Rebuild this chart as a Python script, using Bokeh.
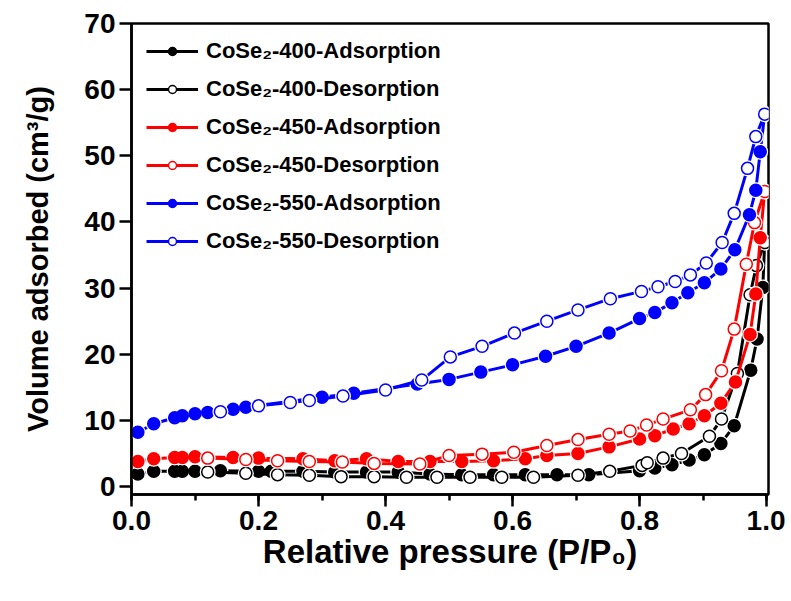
from bokeh.plotting import figure
from bokeh.models import Range1d, SingleIntervalTicker, PrintfTickFormatter, Legend, LegendItem
from bokeh.embed import file_html
from bokeh.resources import INLINE

# ---------------- data ----------------
p400a = [0.01, 0.035, 0.068, 0.08, 0.10, 0.14, 0.20, 0.22, 0.27, 0.32, 0.37, 0.42, 0.47, 0.52, 0.57, 0.62, 0.67, 0.72,
         0.80, 0.824, 0.851, 0.878, 0.902, 0.928, 0.949, 0.975, 0.985, 0.994, 0.997]
v400a = [1.9, 2.3, 2.3, 2.3, 2.3, 2.4, 2.3, 2.3, 2.3, 2.2, 2.2, 2.2, 1.9, 1.8, 1.8, 1.8, 1.8, 1.8,
         2.4, 2.8, 3.3, 4.0, 4.8, 6.5, 9.2, 17.6, 22.3, 30.1, 36.9]
p400d = [0.12, 0.18, 0.23, 0.28, 0.33, 0.382, 0.433, 0.481, 0.533, 0.583, 0.633, 0.703, 0.753, 0.804, 0.812,
         0.837, 0.866, 0.91, 0.929, 0.954, 0.974, 0.984, 0.997]
v400d = [2.2, 2.0, 1.8, 1.7, 1.5, 1.5, 1.4, 1.4, 1.4, 1.4, 1.4, 1.7, 2.3, 3.2, 3.6,
         4.3, 5.0, 7.6, 10.2, 17.1, 29.0, 33.4, 36.9]

p450a = [0.01, 0.035, 0.068, 0.08, 0.10, 0.16, 0.20, 0.27, 0.32, 0.37, 0.42, 0.47, 0.52, 0.57, 0.62, 0.654, 0.703,
         0.752, 0.80, 0.824, 0.853, 0.878, 0.902, 0.928, 0.951, 0.974, 0.983, 0.99, 0.997]
v450a = [3.8, 4.2, 4.4, 4.4, 4.5, 4.4, 4.3, 4.2, 3.9, 4.2, 3.8, 3.8, 3.8, 3.9, 4.2, 4.7, 5.0,
         6.0, 7.2, 7.7, 8.7, 9.5, 10.7, 12.6, 15.8, 23.0, 29.1, 37.6, 44.6]
p450d = [0.12, 0.18, 0.23, 0.28, 0.332, 0.382, 0.454, 0.50, 0.552, 0.602, 0.654, 0.703, 0.752, 0.785, 0.811,
         0.837, 0.88, 0.904, 0.929, 0.949, 0.968, 0.981, 0.997]
v450d = [4.3, 4.1, 3.9, 3.8, 3.7, 3.5, 3.4, 4.7, 4.9, 5.2, 6.2, 7.1, 7.9, 8.4, 9.3,
         10.2, 11.6, 13.9, 17.5, 23.8, 33.6, 39.9, 44.6]

p550a = [0.01, 0.035, 0.068, 0.08, 0.10, 0.12, 0.16, 0.18, 0.30, 0.35, 0.45, 0.50, 0.55, 0.60, 0.652, 0.70,
         0.752, 0.80, 0.824, 0.851, 0.876, 0.902, 0.928, 0.95, 0.973, 0.983, 0.99, 0.997]
v550a = [8.2, 9.5, 10.4, 10.7, 11.0, 11.2, 11.7, 12.0, 13.5, 14.1, 15.5, 16.2, 17.3, 18.4, 19.7, 21.2,
         23.2, 25.4, 26.3, 27.8, 29.3, 30.8, 32.9, 35.8, 41.1, 44.8, 50.6, 56.3]
p550d = [0.14, 0.20, 0.25, 0.28, 0.333, 0.40, 0.457, 0.502, 0.552, 0.603, 0.654, 0.703, 0.754, 0.803, 0.829,
         0.856, 0.88, 0.905, 0.93, 0.949, 0.97, 0.983, 0.997]
v550d = [11.3, 12.2, 12.7, 13.0, 13.7, 14.6, 16.1, 19.6, 21.2, 23.2, 25.0, 26.7, 28.4, 29.5, 30.2,
         31.0, 32.0, 33.8, 36.9, 41.3, 48.1, 52.9, 56.3]

labels = ["CoSe\u2082-400-Adsorption", "CoSe\u2082-400-Desorption",
          "CoSe\u2082-450-Adsorption", "CoSe\u2082-450-Desorption",
          "CoSe\u2082-550-Adsorption", "CoSe\u2082-550-Desorption"]
series = [(p400a, v400a, "#000000", True), (p400d, v400d, "#000000", False),
          (p450a, v450a, "#FF0000", True), (p450d, v450d, "#FF0000", False),
          (p550a, v550a, "#0000FF", True), (p550d, v550d, "#0000FF", False)]

FONT = "Liberation Sans"

p = figure(width=785, height=593, x_range=Range1d(0, 1.003), y_range=Range1d(-1.2, 70),
           output_backend="svg", toolbar_location=None,
           min_border_left=131, min_border_right=17, min_border_top=23, min_border_bottom=99)
p.xgrid.visible = False
p.ygrid.visible = False
p.outline_line_color = "black"
p.outline_line_width = 2.5

items = []
for (xs, ys, col, filled), lab in zip(series, labels):
    ln = p.line(xs, ys, line_color=col, line_width=3)
    halo = p.scatter(xs, ys, marker="circle", size=16, fill_color="white", line_color=None)
    mk = p.scatter(xs, ys, marker="circle", size=12,
                   fill_color=col if filled else "white", line_color=col, line_width=1.5)
    items.append(LegendItem(label=lab, renderers=[ln, halo, mk]))

legend = Legend(items=items, location="top_left", border_line_color=None,
                background_fill_alpha=0, label_text_font=FONT, label_text_font_style="bold",
                label_text_color="black",
                label_text_font_size="22px", glyph_width=52, glyph_height=20, label_height=20,
                spacing=12, padding=8, margin=15, label_standoff=8)
p.add_layout(legend)

for ax in (p.xaxis[0], p.yaxis[0]):
    ax.axis_line_width = 2.5
    ax.axis_line_color = "black"
    ax.major_tick_line_width = 2.5
    ax.major_tick_line_color = "black"
    ax.minor_tick_line_width = 2.5
    ax.major_tick_out = 12
    ax.major_tick_in = 0
    ax.minor_tick_out = 6
    ax.minor_tick_in = 0
    ax.major_label_text_font = FONT
    ax.major_label_text_font_style = "bold"
    ax.major_label_text_font_size = "28px"
    ax.major_label_text_color = "black"
    ax.axis_label_text_font = FONT
    ax.axis_label_text_font_style = "bold"
    ax.axis_label_text_color = "black"

p.xaxis.ticker = SingleIntervalTicker(interval=0.2, num_minor_ticks=2)
p.xaxis.minor_tick_line_color = "black"
p.xaxis.formatter = PrintfTickFormatter(format="%.1f")
p.yaxis.ticker = SingleIntervalTicker(interval=10, num_minor_ticks=2)
p.yaxis.minor_tick_line_color = None
p.xaxis.axis_label = "Relative pressure (P/P\u2080)"
p.yaxis.axis_label = "Volume adsorbed (cm\u00b3/g)"
p.xaxis.axis_label_text_font_size = "33px"
p.yaxis.axis_label_text_font_size = "29px"
p.xaxis.axis_label_standoff = 0
p.yaxis.axis_label_standoff = 27
p.xaxis.major_label_standoff = 4
p.yaxis.major_label_standoff = 4

open("out.html", "w").write(file_html(p, INLINE))
